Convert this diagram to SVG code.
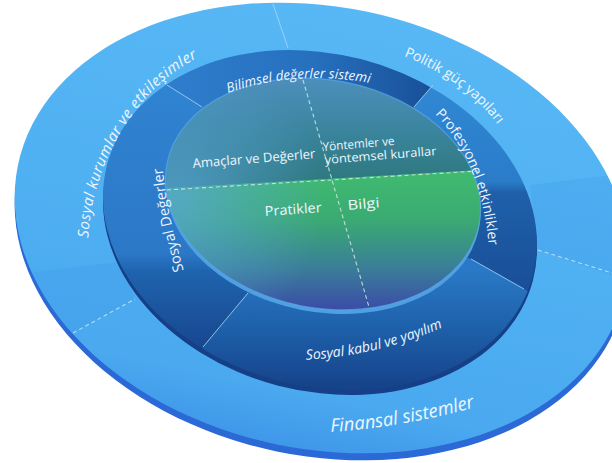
<svg xmlns="http://www.w3.org/2000/svg" width="612" height="463" viewBox="0 0 612 463">
  <defs>
    <style>
      .lbl { font-family: "Open Sans", "Noto Sans", sans-serif; fill: #eef7ff; }
      .it { font-style: italic; }
      .div { stroke: #a6d4f6; stroke-width: 1; fill: none; opacity: 0.85; }
      .dash { stroke: #bfe2fb; stroke-width: 1.1; fill: none; stroke-dasharray: 4 3; opacity: 0.9; }
      .idash { stroke: #cfeede; stroke-width: 1.1; fill: none; stroke-dasharray: 4 3; opacity: 0.85; }
    </style>

    <!-- outer disk -->
    <linearGradient id="gOuter" x1="0" y1="0" x2="0" y2="463" gradientUnits="userSpaceOnUse">
      <stop offset="0" stop-color="#58b8f5"/>
      <stop offset="0.5" stop-color="#4fb0f2"/>
      <stop offset="0.85" stop-color="#4aa9ef"/>
      <stop offset="1" stop-color="#3d93e8"/>
    </linearGradient>
    <clipPath id="cOuter">
      <ellipse cx="321.5" cy="228" rx="310" ry="221" transform="rotate(11.7 321.5 228)"/>
    </clipPath>

    <!-- middle ring bands -->
    <clipPath id="cMid">
      <ellipse cx="320" cy="220" rx="220" ry="166" transform="rotate(14.6 320 220)"/>
    </clipPath>
    <linearGradient id="gBilimsel" x1="160" y1="0" x2="440" y2="0" gradientUnits="userSpaceOnUse">
      <stop offset="0" stop-color="#2f7ecd"/>
      <stop offset="0.55" stop-color="#2670be"/>
      <stop offset="1" stop-color="#184d96"/>
    </linearGradient>
    <linearGradient id="gProf" x1="0" y1="85" x2="0" y2="300" gradientUnits="userSpaceOnUse">
      <stop offset="0" stop-color="#3088d3"/>
      <stop offset="0.45" stop-color="#2a7cc9"/>
      <stop offset="0.5" stop-color="#1f60aa"/>
      <stop offset="1" stop-color="#184d96"/>
    </linearGradient>
    <linearGradient id="gKabul" x1="0" y1="270" x2="0" y2="395" gradientUnits="userSpaceOnUse">
      <stop offset="0" stop-color="#2a79c6"/>
      <stop offset="0.5" stop-color="#1d5ea8"/>
      <stop offset="1" stop-color="#153f86"/>
    </linearGradient>
    <linearGradient id="gSosDeg" x1="0" y1="80" x2="0" y2="370" gradientUnits="userSpaceOnUse">
      <stop offset="0" stop-color="#3084d1"/>
      <stop offset="0.6" stop-color="#2b78c7"/>
      <stop offset="0.66" stop-color="#1f63ae"/>
      <stop offset="1" stop-color="#153f85"/>
    </linearGradient>

    <!-- core -->
    <clipPath id="cCore">
      <ellipse cx="323" cy="194" rx="159" ry="114" transform="rotate(11 323 194)"/>
    </clipPath>
    <linearGradient id="gCoreTop" x1="0" y1="78" x2="0" y2="190" gradientUnits="userSpaceOnUse">
      <stop offset="0" stop-color="#4c8fbc"/>
      <stop offset="0.5" stop-color="#3a849c"/>
      <stop offset="1" stop-color="#2b7678"/>
    </linearGradient>
    <linearGradient id="gCoreBot" x1="0" y1="170" x2="0" y2="310" gradientUnits="userSpaceOnUse">
      <stop offset="0" stop-color="#40bb70"/>
      <stop offset="0.35" stop-color="#3aab72"/>
      <stop offset="0.7" stop-color="#3a7e98"/>
      <stop offset="1" stop-color="#3a4ca8"/>
    </linearGradient>
    <radialGradient id="gCoreHaze" cx="175" cy="200" r="150" gradientUnits="userSpaceOnUse">
      <stop offset="0" stop-color="#5aa6dc" stop-opacity="0.75"/>
      <stop offset="1" stop-color="#5aa6dc" stop-opacity="0"/>
    </radialGradient>

    <!-- label baselines -->
    <path id="pKurum" d="M 88,248 C 88,170 135,80 215,50"/>
    <path id="pPolitik" d="M 404,56 C 440,70 480,95 507,138"/>
    <path id="pFinans" d="M 331,432 Q 400,428 488,404"/>
    <path id="pBilimsel" d="M 228,93 Q 300,68 380,85"/>
    <path id="pProf" d="M 433,112 C 462,140 485,185 490,258"/>
    <path id="pSosDeg" d="M 186,278 C 175,240 163,200 161,140"/>
    <path id="pKabul" d="M 300,360 Q 380,357 452,323"/>
  </defs>

  <!-- outer disk: edge, face, sector shading -->
  <g id="outer-disk">
    <ellipse cx="321.5" cy="235" rx="310" ry="221" transform="rotate(11.7 321.5 235)" fill="#2a69d6"/>
    <ellipse cx="321.5" cy="228" rx="310" ry="221" transform="rotate(11.7 321.5 228)" fill="url(#gOuter)"/>
    <g clip-path="url(#cOuter)" fill="#2f86de" opacity="0.16">
      <polygon points="120,262 0,276 0,380 73,333 135,299"/>
      <polygon points="530,185 620,174 620,278 538,250"/>
    </g>
  </g>

  <!-- middle ring: edge and four bands -->
  <ellipse cx="320" cy="225" rx="220" ry="166" transform="rotate(14.6 320 225)" fill="#153f86"/>
  <g id="band-bilimsel" clip-path="url(#cMid)">
    <polygon points="323,194 202,107 97,41 90,-5 480,-5 471,41 414,107" fill="url(#gBilimsel)"/>
  </g>
  <g id="band-profesyonel" clip-path="url(#cMid)">
    <polygon points="323,194 414,107 471,41 560,-5 640,-5 640,340 577,319 471,259" fill="url(#gProf)"/>
  </g>
  <g id="band-kabul" clip-path="url(#cMid)">
    <polygon points="323,194 471,259 577,319 640,340 640,480 100,480 158,401 248,293" fill="url(#gKabul)"/>
  </g>
  <g id="band-sosyal-degerler" clip-path="url(#cMid)">
    <polygon points="323,194 248,293 158,401 100,480 -10,480 -10,-5 90,-5 97,41 202,107" fill="url(#gSosDeg)"/>
  </g>

  <!-- core disk: edge and four quadrants -->
  <g id="core">
    <ellipse cx="323" cy="198" rx="159" ry="114" transform="rotate(11 323 198)" fill="#4f9fe3"/>
    <g clip-path="url(#cCore)">
      <polygon points="0,0 612,0 612,162.3 0,198.1" fill="url(#gCoreTop)"/>
      <polygon points="0,198.1 612,162.3 612,463 0,463" fill="url(#gCoreBot)"/>
      <rect x="150" y="70" width="340" height="250" fill="url(#gCoreHaze)"/>
    </g>
    <ellipse cx="323" cy="194" rx="159" ry="114" transform="rotate(11 323 194)" fill="none" stroke="#5aa8e6" stroke-width="1.2" opacity="0.7"/>
  </g>

  <!-- dividers -->
  <g id="connectors">
    <line class="div" x1="273" y1="4" x2="288" y2="48"/>
    <line class="div" x1="167" y1="85" x2="202" y2="107"/>
    <line class="div" x1="433" y1="85" x2="414" y2="107"/>
    <line class="div" x1="471" y1="259" x2="524" y2="289"/>
    <line class="div" x1="248" y1="293" x2="203" y2="347"/>
    <line class="dash" x1="73" y1="333" x2="135" y2="299"/>
    <line class="dash" x1="538" y1="250" x2="612" y2="273"/>
    <line class="idash" x1="167" y1="190" x2="478" y2="171"/>
    <line class="idash" x1="303" y1="80" x2="369" y2="307"/>
  </g>

  <!-- outer ring labels -->
  <g id="node-kurumlar">
    <text class="lbl it" font-size="15" letter-spacing="0.5"><textPath href="#pKurum" startOffset="10">Sosyal kurumlar ve etkileşimler</textPath></text>
  </g>
  <g id="node-politik">
    <text class="lbl" font-size="14"><textPath href="#pPolitik">Politik güç yapıları</textPath></text>
  </g>
  <g id="node-finansal">
    <text class="lbl it" font-size="18.5"><textPath href="#pFinans">Finansal sistemler</textPath></text>
  </g>

  <!-- middle ring labels -->
  <g id="node-bilimsel">
    <text class="lbl it" font-size="13.5"><textPath href="#pBilimsel">Bilimsel değerler sistemi</textPath></text>
  </g>
  <g id="node-profesyonel">
    <text class="lbl" font-size="14"><textPath href="#pProf" startOffset="3">Profesyonel etkinlikler</textPath></text>
  </g>
  <g id="node-sosyal-degerler">
    <text class="lbl" font-size="14.5"><textPath href="#pSosDeg" startOffset="8">Sosyal Değerler</textPath></text>
  </g>
  <g id="node-kabul">
    <text class="lbl it" font-size="14"><textPath href="#pKabul" startOffset="6">Sosyal kabul ve yayılım</textPath></text>
  </g>

  <!-- core labels -->
  <g id="node-amaclar">
    <text class="lbl" font-size="13" x="193" y="168" textLength="123" lengthAdjust="spacingAndGlyphs" transform="rotate(-4.6 193 168)">Amaçlar ve Değerler</text>
  </g>
  <g id="node-yontemler">
    <text class="lbl" font-size="12" x="323" y="151" textLength="72" lengthAdjust="spacingAndGlyphs" transform="rotate(-4.8 323 151)">Yöntemler ve</text>
    <text class="lbl" font-size="12" x="325" y="164" textLength="112" lengthAdjust="spacingAndGlyphs" transform="rotate(-4.6 325 164)">yöntemsel kurallar</text>
  </g>
  <g id="node-pratikler">
    <text class="lbl" font-size="13.5" x="265" y="216" textLength="57" lengthAdjust="spacingAndGlyphs" transform="rotate(-4 265 216)">Pratikler</text>
  </g>
  <g id="node-bilgi">
    <text class="lbl" font-size="13.5" x="348" y="210" textLength="32" lengthAdjust="spacingAndGlyphs" transform="rotate(-5 348 210)">Bilgi</text>
  </g>
</svg>
